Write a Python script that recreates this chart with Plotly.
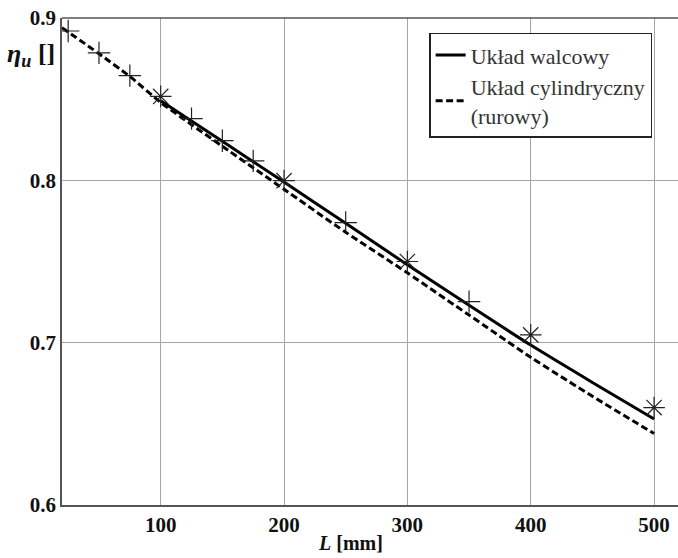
import plotly.graph_objects as go

# ---- data ----
L_walc = [100, 150, 200, 250, 300, 350, 400, 450, 500]
eta_walc = [0.849, 0.824, 0.799, 0.7735, 0.748, 0.723, 0.6985, 0.6755, 0.653]

L_cyl = [20, 50, 75, 100, 150, 200, 250, 300, 350, 400, 450, 500]
eta_cyl = [0.894, 0.878, 0.864, 0.848, 0.821, 0.7945, 0.768, 0.743, 0.717, 0.691, 0.667, 0.644]

L_plus = [25, 50, 75, 125, 150, 175, 250, 350]
eta_plus = [0.892, 0.8785, 0.8645, 0.838, 0.8244, 0.812, 0.774, 0.7253]

L_star = [100, 200, 300, 400, 500]
eta_star = [0.8517, 0.7998, 0.750, 0.7048, 0.660]

x_ticks = [100, 200, 300, 400, 500]
x_ticklabels = ["100", "200", "300", "400", "500"]
y_ticks = [0.6, 0.7, 0.8, 0.9]
y_ticklabels = ["0.6", "0.7", "0.8", "0.9"]

name_walc = "Układ walcowy"
name_cyl = "Układ cylindryczny<br>(rurowy)"

SERIF = "'Liberation Serif', 'DejaVu Serif', serif"
INK = "#111111"
MARK = "#222222"

fig = go.Figure()

fig.add_trace(go.Scatter(
    x=L_walc, y=eta_walc, mode="lines", name=name_walc,
    line=dict(color="#000000", width=3, shape="spline", smoothing=0.6),
))
fig.add_trace(go.Scatter(
    x=L_cyl, y=eta_cyl, mode="lines", name=name_cyl,
    line=dict(color="#000000", width=3, dash="7px,3.5px", shape="spline", smoothing=0.6),
))
fig.add_trace(go.Scatter(
    x=L_plus, y=eta_plus, mode="markers", showlegend=False,
    marker=dict(symbol="cross-thin-open", size=16, color=MARK,
                line=dict(color=MARK, width=1.2)),
))
fig.add_trace(go.Scatter(
    x=L_star, y=eta_star, mode="markers", showlegend=False,
    marker=dict(symbol="asterisk-open", size=18, color=MARK,
                line=dict(color=MARK, width=1.2)),
))

fig.update_layout(
    width=678, height=558,
    margin=dict(l=62, r=0, t=18, b=53),
    paper_bgcolor="white", plot_bgcolor="white",
    font=dict(family=SERIF, color=INK),
    legend=dict(
        x=0.596, y=0.97, xanchor="left", yanchor="top",
        bgcolor="white", bordercolor="#222222", borderwidth=1.5,
        font=dict(family=SERIF, size=22, color="#333333"),
        tracegroupgap=0, itemwidth=30,
    ),
    xaxis=dict(
        range=[20, 519.4], tickvals=x_ticks, ticktext=x_ticklabels,
        showgrid=True, gridcolor="#a6a6a6", gridwidth=1,
        showline=True, linecolor="#555555", linewidth=1.5, mirror=False,
        zeroline=False, ticks="",
        tickfont=dict(family=SERIF, size=21, color=INK, weight="bold"),
    ),
    yaxis=dict(
        range=[0.6, 0.9], tickvals=y_ticks, ticktext=y_ticklabels,
        showgrid=True, gridcolor="#a6a6a6", gridwidth=1,
        showline=True, linecolor="#555555", linewidth=1.5, mirror=False,
        zeroline=False, ticks="",
        tickfont=dict(family=SERIF, size=21, color=INK, weight="bold"),
    ),
)

# top border of the plot frame
fig.add_shape(type="line", xref="paper", yref="paper", x0=0, x1=1, y0=1, y1=1,
              line=dict(color="#555555", width=1.5))

# axis titles
fig.add_annotation(
    xref="paper", yref="paper", x=0.468, y=-0.078, xanchor="center", yanchor="middle",
    text="<b><i>L</i> [mm]</b>", showarrow=False,
    font=dict(family=SERIF, size=20, color=INK),
)
fig.add_annotation(
    xref="paper", yref="paper", x=-0.05, y=0.924, xanchor="center", yanchor="middle",
    text="<b><i>η</i></b><sub><b><i>u</i></b></sub><b> []</b>", showarrow=False,
    font=dict(family=SERIF, size=26, color=INK),
)

fig.write_html("out.html")
